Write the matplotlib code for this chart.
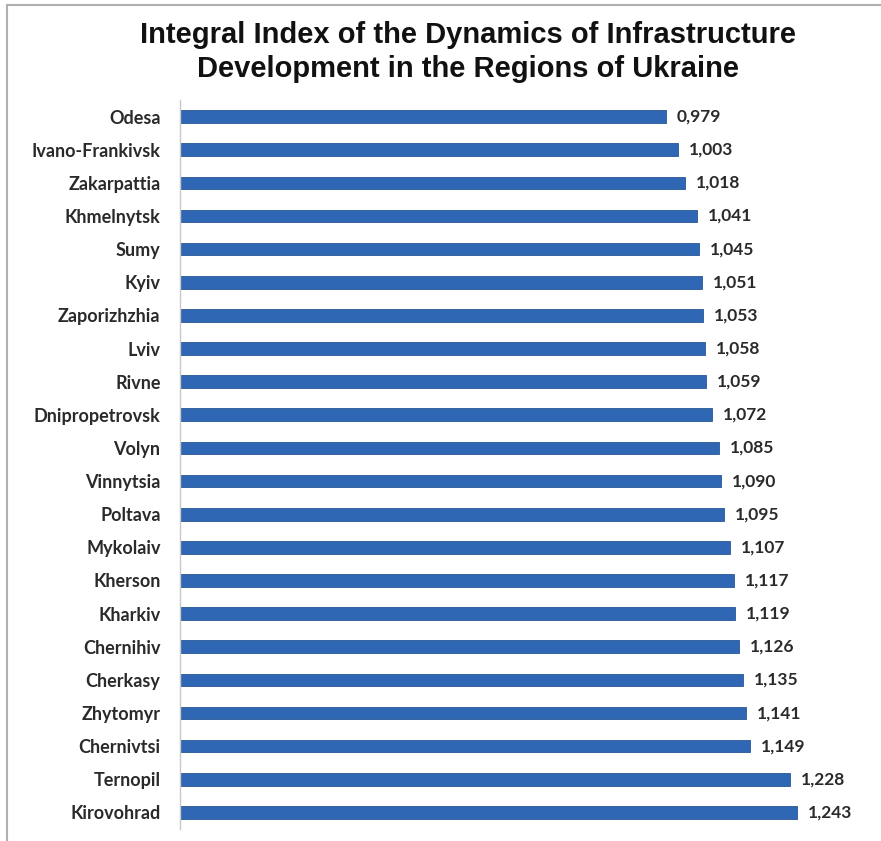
import matplotlib
matplotlib.use("Agg")
import matplotlib.pyplot as plt
from matplotlib.lines import Line2D

regions = [
    "Odesa", "Ivano-Frankivsk", "Zakarpattia", "Khmelnytsk", "Sumy", "Kyiv",
    "Zaporizhzhia", "Lviv", "Rivne", "Dnipropetrovsk", "Volyn", "Vinnytsia",
    "Poltava", "Mykolaiv", "Kherson", "Kharkiv", "Chernihiv", "Cherkasy",
    "Zhytomyr", "Chernivtsi", "Ternopil", "Kirovohrad",
]
index_values = [
    0.979, 1.003, 1.018, 1.041, 1.045, 1.051, 1.053, 1.058, 1.059, 1.072, 1.085,
    1.090, 1.095, 1.107, 1.117, 1.119, 1.126, 1.135, 1.141, 1.149, 1.228, 1.243,
]

W, H = 881, 841
fig = plt.figure(figsize=(W / 100, H / 100), dpi=100)

# frame lines of the original picture (top and left only)
fig.add_artist(Line2D([7 / W, 7 / W], [0, 1 - 5 / H], color="#b0b0b0", lw=1.5))
fig.add_artist(Line2D([7 / W, 1], [1 - 5 / H, 1 - 5 / H], color="#b0b0b0", lw=1.5))

ax = fig.add_axes([180 / W, 1 - 829 / H, (866 - 180) / W, (829 - 100) / H])

y = list(range(len(regions)))
ax.barh(y, index_values, height=0.38, color="#2F67B4", edgecolor="#275896", linewidth=0.6)

ax.set_xlim(0, (866 - 180) / 496.4)
ax.set_ylim(len(regions) - 0.5, -0.5)

for yi, v in zip(y, index_values):
    ax.text(v + 0.022, yi, f"{v:.3f}".replace(".", ","), va="center", ha="left",
            fontsize=12.5, fontweight="bold", family="Lato", color="#2a2a2a")

ax.set_yticks(y)
ax.set_yticklabels(regions, fontsize=13, fontweight="bold", family="Lato", color="#2a2a2a")
ax.tick_params(axis="y", length=0, pad=14)
ax.set_xticks([])
for side in ["top", "right", "bottom"]:
    ax.spines[side].set_visible(False)
ax.spines["left"].set_color("#c8c8c8")
ax.spines["left"].set_linewidth(1.0)

fig.text(468 / W, 1 - 52 / H,
         "Integral Index of the Dynamics of Infrastructure\nDevelopment in the Regions of Ukraine",
         ha="center", va="center", fontsize=21, fontweight="bold",
         family="Liberation Sans", linespacing=1.25, color="#111111")

fig.savefig("out.png", dpi=100)
